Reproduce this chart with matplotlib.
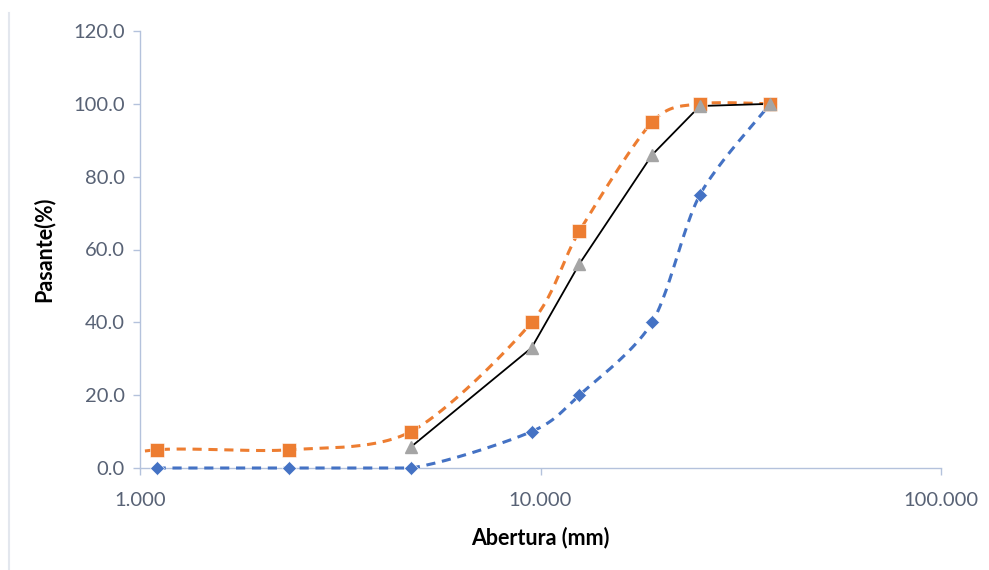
import numpy as np
import matplotlib

matplotlib.use("Agg")
import matplotlib.pyplot as plt
from matplotlib.lines import Line2D
from matplotlib.ticker import FixedLocator, FormatStrFormatter, NullLocator

# sieve openings (mm) and percent passing
lim_sup_x = [0.6, 1.1, 2.36, 4.75, 9.5, 12.5, 19.0, 25.0, 37.5]
lim_sup_y = [0.0, 5.0, 5.0, 10.0, 40.0, 65.0, 95.0, 100.0, 100.0]

lim_inf_x = [1.1, 2.36, 4.75, 9.5, 12.5, 19.0, 25.0, 37.5]
lim_inf_y = [0.0, 0.0, 0.0, 10.0, 20.0, 40.0, 75.0, 100.0]

muestra_x = [4.75, 9.5, 12.5, 19.0, 25.0, 37.5]
muestra_y = [5.8, 33.0, 56.0, 86.0, 99.4, 100.0]

x_ticks = [1, 10, 100]
y_ticks = [0, 20, 40, 60, 80, 100, 120]

ORANGE = "#ED7D31"
BLUE = "#4472C4"
GRAY = "#A5A5A5"
AXIS = "#b4c2dc"
TEXT = "#586275"

plt.rcParams["font.family"] = ["Lato", "DejaVu Sans"]

W, H = 989, 570
fig = plt.figure(figsize=(W / 100, H / 100), dpi=100)
ax = fig.add_axes([140 / W, 102 / H, 801 / W, 437 / H])
ax.set_xscale("log")
ax.set_xlim(1, 100)
ax.set_ylim(0, 120)


def smooth(xs, ys, k=1 / 7, n=40):
    # bezier smoothing done in screen-proportional space (log x, y)
    u = np.log10(xs) / 2.0 * 801
    v = np.asarray(ys) / 120.0 * 437
    p = np.column_stack([u, v])
    out = [p[0]]
    for i in range(len(p) - 1):
        p0 = p[i - 1] if i > 0 else p[i]
        p1, p2 = p[i], p[i + 1]
        p3 = p[i + 2] if i + 2 < len(p) else p[i + 1]
        c1 = p1 + (p2 - p0) * k
        c2 = p2 - (p3 - p1) * k
        t = np.linspace(0, 1, n)[1:, None]
        seg = ((1 - t) ** 3) * p1 + 3 * ((1 - t) ** 2) * t * c1 \
            + 3 * (1 - t) * t ** 2 * c2 + t ** 3 * p2
        out.extend(seg)
    out = np.array(out)
    return 10 ** (out[:, 0] / 801 * 2.0), out[:, 1] / 437 * 120.0


dash = dict(lw=2.2, linestyle=(0, (3, 2.2)), dash_capstyle="butt", zorder=3)

# lower limit sits on y=0, keep it unclipped so the full stroke shows
sx, sy = smooth(lim_inf_x, lim_inf_y)
sy = np.maximum(sy, 0.0)
ax.plot(sx, sy, color=BLUE, clip_on=False, **dash)
ax.plot(lim_inf_x, lim_inf_y, linestyle="none", marker="D", ms=7.5,
        color=BLUE, mec="white", mew=0.4, zorder=5, clip_on=False)

sx, sy = smooth(lim_sup_x, lim_sup_y)
ax.plot(sx, sy, color=ORANGE, **dash)
ax.plot(lim_sup_x, lim_sup_y, linestyle="none", marker="s", ms=10.5,
        color=ORANGE, mec="white", mew=0.4, zorder=5)

ax.plot(muestra_x, muestra_y, color="black", lw=1.3, zorder=4)
ax.plot(muestra_x, muestra_y, linestyle="none", marker="^", ms=8,
        color=GRAY, zorder=5)

for side in ("top", "right"):
    ax.spines[side].set_visible(False)
for side in ("left", "bottom"):
    ax.spines[side].set_color(AXIS)
    ax.spines[side].set_linewidth(1.0)

ax.xaxis.set_major_locator(FixedLocator(x_ticks))
ax.xaxis.set_minor_locator(NullLocator())
ax.xaxis.set_major_formatter(FormatStrFormatter("%.3f"))
ax.yaxis.set_major_locator(FixedLocator(y_ticks))
ax.yaxis.set_major_formatter(FormatStrFormatter("%.1f"))
ax.tick_params(axis="both", colors=AXIS, length=5, width=1.0,
               labelcolor=TEXT, labelsize=14.5)
ax.tick_params(axis="x", pad=12)
ax.tick_params(axis="y", pad=6)

ax.set_xlabel("Abertura (mm)", fontsize=15.5, fontweight="bold", labelpad=13)
ax.set_ylabel("Pasante(%)", fontsize=15.5, fontweight="bold", labelpad=13)

# thin border line along the left edge
fig.add_artist(Line2D([9 / W, 9 / W], [0, 1 - 13 / H], color="#e3e7ee",
                      lw=1.5, transform=fig.transFigure))

fig.savefig("out.png", dpi=100)
